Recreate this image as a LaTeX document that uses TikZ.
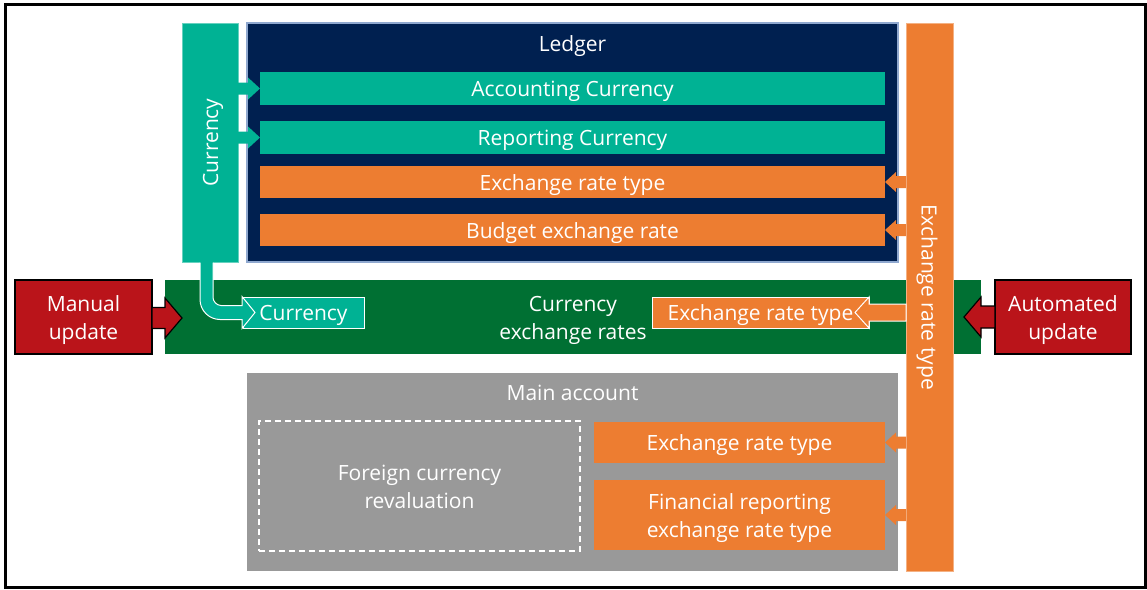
\documentclass[tikz,border=0pt]{standalone}
\usepackage{fontspec}
\setmainfont{Open Sans}
\usetikzlibrary{calc}
\definecolor{msteal}{HTML}{00B294}
\definecolor{msnavy}{HTML}{002050}
\definecolor{msnavyedge}{HTML}{8FA8CF}
\definecolor{msorange}{HTML}{ED7D31}
\definecolor{msgreen}{HTML}{007033}
\definecolor{msred}{HTML}{BA141A}
\definecolor{msgray}{HTML}{999999}
\newcommand\hArrow[6]{%
  \coordinate (aS) at (#2 |- #3);
  \coordinate (aT) at (#3);
  \path[#1] ($(aS)+(0,-#5)$) -- ($(aT)+({-1*(#4)},-#5)$) -- ($(aT)+({-1*(#4)},-#6)$) -- (aT)
     -- ($(aT)+({-1*(#4)},#6)$) -- ($(aT)+({-1*(#4)},#5)$) -- ($(aS)+(0,#5)$) -- cycle;
}
\begin{document}
\begin{tikzpicture}[x=1pt,y=-1pt,
  blk/.style={anchor=north west, inner sep=0pt, outer sep=0pt, text=white,
    font=\fontsize{21}{28}\selectfont, align=center, text height=16pt, text depth=0pt},
  two/.style={text height=44pt, text depth=0pt},
  tealbar/.style={blk, fill=msteal},
  orangebar/.style={blk, fill=msorange},
  redbox/.style={blk, two, fill=msred, draw=black, line width=1.3pt},
  lbl/.style={text=white, inner sep=0pt, font=\fontsize{21}{28}\selectfont, align=center, text height=16pt, text depth=0pt},
  tealarrow/.style={fill=msteal},
  orangearrow/.style={fill=msorange},
  redarrow/.style={fill=msred, draw=black, line width=1.2pt, line join=miter},
  outlinearrow/.style={fill=msorange, draw=white, line width=1pt},
]
\useasboundingbox (0,0) rectangle (1147,589);
\draw[line width=3pt] (5.5,4.5) rectangle (1145.5,587.5);

% upper part
\node[tealbar, draw=msteal!60!white, line width=0.6pt, minimum width=56, minimum height=239] (cur) at (182,23) {};
\node[lbl, rotate=90] (curlbl) at (cur.center) {Currency};
\node[blk, fill=msnavy, draw=msnavyedge, line width=1.2pt, minimum width=651, minimum height=239] (ledger) at (247,23) {};
\node[lbl] (ledgerlbl) at ($(ledger.north)+(0,20)$) {Ledger};
\node[tealbar, minimum width=625, minimum height=33] (acc) at (260,72) {Accounting Currency};
\node[tealbar, minimum width=625, minimum height=33] (rep) at (260,121) {Reporting Currency};
\node[orangebar, minimum width=625, minimum height=32] (ert1) at (260,166) {Exchange rate type};
\node[orangebar, minimum width=625, minimum height=32] (bud) at (260,214) {Budget exchange rate};

% main account
\node[blk, fill=msgray, minimum width=651, minimum height=198] (main) at (247,373) {};
\node[lbl] (mainlbl) at ($(main.north)+(0,19)$) {Main account};
\node[blk, two, draw=white, line width=1.3pt, dash pattern=on 6pt off 4pt, minimum width=321, minimum height=130] (fcr) at (259,421) {Foreign currency\\revaluation};
\node[orangebar, minimum width=291, minimum height=41] (ert2) at (594,422) {Exchange rate type};
\node[orangebar, two, minimum width=291, minimum height=70] (fin) at (594,480) {Financial reporting\\exchange rate type};

% green band
\node[blk, two, fill=msgreen, minimum width=816, minimum height=74] (band) at (165,280) {Currency\\exchange rates};

% vertical exchange rate type bar
\node[orangebar, draw=msorange!60!white, line width=0.6pt, minimum width=47, minimum height=548] (erbar) at (906,23) {};
\node[lbl, rotate=-90] (erlbl) at (erbar.center) {Exchange rate type};

% boxes inside band
\node[tealbar, draw=white, line width=1pt, minimum width=121, minimum height=31] (cbox) at (243,297) {Currency};
\node[orangebar, draw=white, line width=1pt, minimum width=217, minimum height=31] (ebox) at (652,297) {Exchange rate type};

% update boxes
\node[redbox, minimum width=137, minimum height=74] (manual) at (15,280) {Manual\\update};
\node[redbox, minimum width=136, minimum height=74] (auto) at (995,280) {Automated\\update};

% arrow tips
\coordinate (etip) at ($(ebox.east)+(-14,0)$);
\coordinate (mtip) at ($(manual.east)+(30,1)$);
\coordinate (atip) at ($(auto.west)+(-31,0)$);

% arrows currency -> ledger rows
\hArrow{tealarrow}{cur.east}{acc.west}{12}{6}{11}
\hArrow{tealarrow}{cur.east}{rep.west}{12}{6}{11}
% arrows exchange rate type bar -> rows
\hArrow{orangearrow}{erbar.west}{ert1.east}{-11}{6}{10}
\hArrow{orangearrow}{erbar.west}{bud.east}{-11}{6}{10}
\hArrow{orangearrow}{erbar.west}{ert2.east}{-11}{6}{10}
\hArrow{orangearrow}{erbar.west}{fin.east}{-11}{6}{10}
% exchange rate type into band box
\hArrow{outlinearrow}{erbar.west}{etip}{-14}{8.5}{15.5}
% update arrows
\hArrow{redarrow}{manual.east}{mtip}{17}{10.5}{20}
\hArrow{redarrow}{auto.west}{atip}{-17}{11}{20}

% elbow arrow currency -> currency box
\coordinate (ctip) at ($(cbox.west)+(12,0)$);
\fill[msteal] (200,261) -- (200,299.5) .. controls (200,310.5) and (209,319.5) .. (220,319.5)
  -- (242,319.5) -- (242,328.5) -- (ctip) -- (242,296.5) -- (242,305.5) -- (221,305.5)
  .. controls (216.6,305.5) and (213,301.1) .. (213,297.5) -- (213,261) -- cycle;
\draw[white, line width=1pt, line join=miter] (200,262.5) -- (200,299.5) .. controls (200,310.5) and (209,319.5) .. (220,319.5)
  -- (242,319.5) -- (242,328.5) -- (ctip) -- (242,296.5) -- (242,305.5) -- (221,305.5)
  .. controls (216.6,305.5) and (213,301.1) .. (213,297.5) -- (213,262.5);
\end{tikzpicture}
\end{document}
